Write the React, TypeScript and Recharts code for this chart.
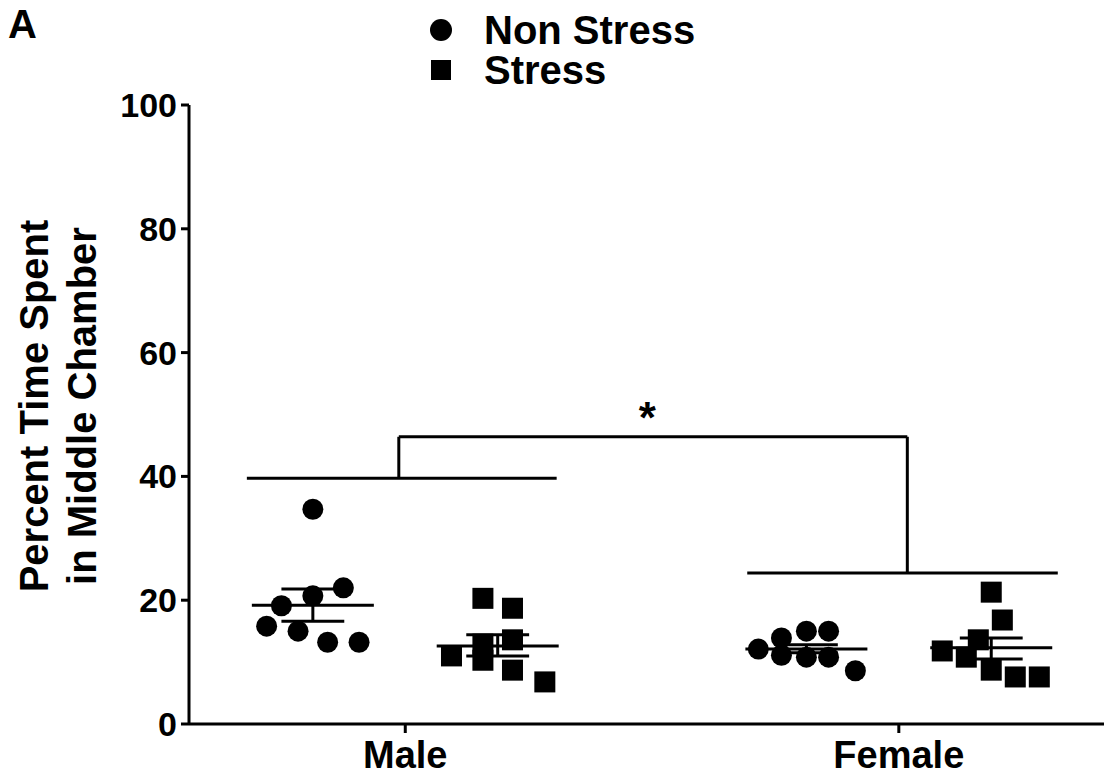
import {
  ComposedChart,
  Scatter,
  XAxis,
  YAxis,
  ReferenceLine,
  ReferenceDot,
} from "recharts";

const FONT = '"Liberation Sans", Arial, Helvetica, sans-serif';

// axis ticks
const yTicks = [0, 20, 40, 60, 80, 100];
const groupNames = ["Male", "Female"];
const groupTicks = [1.5, 4.17];

// column centres: Male NS, Male S, Female NS, Female S
const columnX = [1, 2, 3.67, 4.67];

// individual animals (% time in middle chamber) + horizontal jitter
const maleNonStress = [34.7, 22.0, 20.7, 19.1, 15.8, 15.0, 13.2, 13.2];
const maleNonStressJitter = [0, 0.165, 0, -0.17, -0.25, -0.08, 0.08, 0.25];
const maleStress = [20.3, 18.7, 13.6, 12.9, 11.0, 10.3, 8.7, 6.8];
const maleStressJitter = [-0.08, 0.08, 0.08, -0.08, -0.25, -0.08, 0.08, 0.255];
const femaleNonStress = [12.1, 13.9, 11.1, 15.0, 10.8, 15.0, 10.8, 8.6];
const femaleNonStressJitter = [-0.26, -0.135, -0.135, 0, 0, 0.12, 0.12, 0.265];
const femaleStress = [21.3, 16.8, 13.6, 11.8, 10.8, 8.7, 7.6, 7.6];
const femaleStressJitter = [0, 0.06, -0.07, -0.265, -0.135, 0, 0.13, 0.26];

// mean +/- SEM per column
const means = [19.2, 12.6, 12.1, 12.3];
const semHigh = [21.8, 14.4, 12.8, 13.9];
const semLow = [16.6, 11.0, 11.5, 10.5];

// significance bracket (main effect of sex)
const maleBracketY = 39.7;
const femaleBracketY = 24.4;
const topBracketY = 46.4;
const maleBracketX = [0.643, 2.319];
const femaleBracketX = [3.35, 5.03];
const topBracketX = [1.465, 4.216];
const starPos = { x: 2.81, y: 49.6 };

const toPoints = (values: number[], jitter: number[], col: number) =>
  values.map((v, i) => ({ x: columnX[col] + jitter[i], y: v }));

const Circle = (props: any) => (
  <circle cx={props.cx} cy={props.cy} r={10.5} fill="#000" />
);
const Square = (props: any) => (
  <rect x={props.cx - 10.5} y={props.cy - 10.5} width={21} height={21} fill="#000" />
);

const YLabel = () => (
  <g fontFamily={FONT} fontWeight={700} fontSize={40} fill="#000">
    <text transform="rotate(-90, 48, 406)" x={48} y={406} textAnchor="middle">
      Percent Time Spent
    </text>
    <text transform="rotate(-90, 96, 406)" x={96} y={406} textAnchor="middle">
      in Middle Chamber
    </text>
  </g>
);

const line = { stroke: "#000", strokeWidth: 3 };

export default function App() {
  const mean = 0.33;
  const sem = 0.17;
  return (
    <div style={{ position: "absolute", left: 0, top: 0, width: 1106, height: 780, background: "#fff" }}>
      <ComposedChart
        width={1106}
        height={780}
        margin={{ top: 105, right: 2, bottom: 0, left: 0 }}
      >
        <XAxis
          type="number"
          dataKey="x"
          domain={[0.33, 5.28]}
          ticks={groupTicks}
          tickFormatter={(v: number) => groupNames[groupTicks.indexOf(v)]}
          allowDataOverflow
          height={56}
          tickSize={9}
          tickMargin={8}
          axisLine={line}
          tickLine={line}
          tick={{ fill: "#000", fontSize: 38, fontWeight: 700, fontFamily: FONT }}
        />
        <YAxis
          type="number"
          dataKey="y"
          domain={[0, 100]}
          ticks={yTicks}
          width={189}
          tickSize={8}
          tickMargin={4}
          axisLine={line}
          tickLine={line}
          tick={{ fill: "#000", fontSize: 34, fontWeight: 700, fontFamily: FONT }}
          label={<YLabel />}
        />

        <Scatter data={toPoints(maleNonStress, maleNonStressJitter, 0)} shape={Circle} isAnimationActive={false} />
        <Scatter data={toPoints(maleStress, maleStressJitter, 1)} shape={Square} isAnimationActive={false} />
        <Scatter data={toPoints(femaleNonStress, femaleNonStressJitter, 2)} shape={Circle} isAnimationActive={false} />
        <Scatter data={toPoints(femaleStress, femaleStressJitter, 3)} shape={Square} isAnimationActive={false} />

        {columnX.map((cx, i) => (
          <ReferenceLine
            key={`m${i}`}
            segment={[{ x: cx - mean, y: means[i] }, { x: cx + mean, y: means[i] }]}
            {...line}
          />
        ))}
        {columnX.map((cx, i) => (
          <ReferenceLine
            key={`h${i}`}
            segment={[{ x: cx - sem, y: semHigh[i] }, { x: cx + sem, y: semHigh[i] }]}
            {...line}
          />
        ))}
        {columnX.map((cx, i) => (
          <ReferenceLine
            key={`l${i}`}
            segment={[{ x: cx - sem, y: semLow[i] }, { x: cx + sem, y: semLow[i] }]}
            {...line}
          />
        ))}
        {columnX.map((cx, i) => (
          <ReferenceLine
            key={`v${i}`}
            segment={[{ x: cx, y: semLow[i] }, { x: cx, y: semHigh[i] }]}
            {...line}
          />
        ))}

        <ReferenceLine
          segment={[{ x: maleBracketX[0], y: maleBracketY }, { x: maleBracketX[1], y: maleBracketY }]}
          {...line}
        />
        <ReferenceLine
          segment={[{ x: femaleBracketX[0], y: femaleBracketY }, { x: femaleBracketX[1], y: femaleBracketY }]}
          {...line}
        />
        <ReferenceLine
          segment={[{ x: topBracketX[0], y: maleBracketY }, { x: topBracketX[0], y: topBracketY }]}
          {...line}
        />
        <ReferenceLine
          segment={[{ x: topBracketX[0], y: topBracketY }, { x: topBracketX[1], y: topBracketY }]}
          {...line}
        />
        <ReferenceLine
          segment={[{ x: topBracketX[1], y: topBracketY }, { x: topBracketX[1], y: femaleBracketY }]}
          {...line}
        />
        <ReferenceDot
          x={starPos.x}
          y={starPos.y}
          r={0}
          fill="none"
          stroke="none"
          label={{ value: "*", position: "center", fill: "#000", fontSize: 44, fontWeight: 700, fontFamily: FONT }}
        />
      </ComposedChart>

      <div style={{ position: "absolute", left: 8, top: 2, fontFamily: FONT, fontWeight: 700, fontSize: 40, lineHeight: "44px" }}>
        A
      </div>
      <div style={{ position: "absolute", left: 428, top: 10, fontFamily: FONT, fontWeight: 700, fontSize: 40, lineHeight: "40px" }}>
        <div style={{ display: "flex", alignItems: "center", height: 40 }}>
          <svg width={26} height={26} style={{ marginRight: 30 }}>
            <circle cx={13} cy={13} r={11} fill="#000" />
          </svg>
          Non Stress
        </div>
        <div style={{ display: "flex", alignItems: "center", height: 40 }}>
          <svg width={26} height={26} style={{ marginRight: 30 }}>
            <rect x={3} y={3} width={20} height={20} fill="#000" />
          </svg>
          Stress
        </div>
      </div>
    </div>
  );
}
